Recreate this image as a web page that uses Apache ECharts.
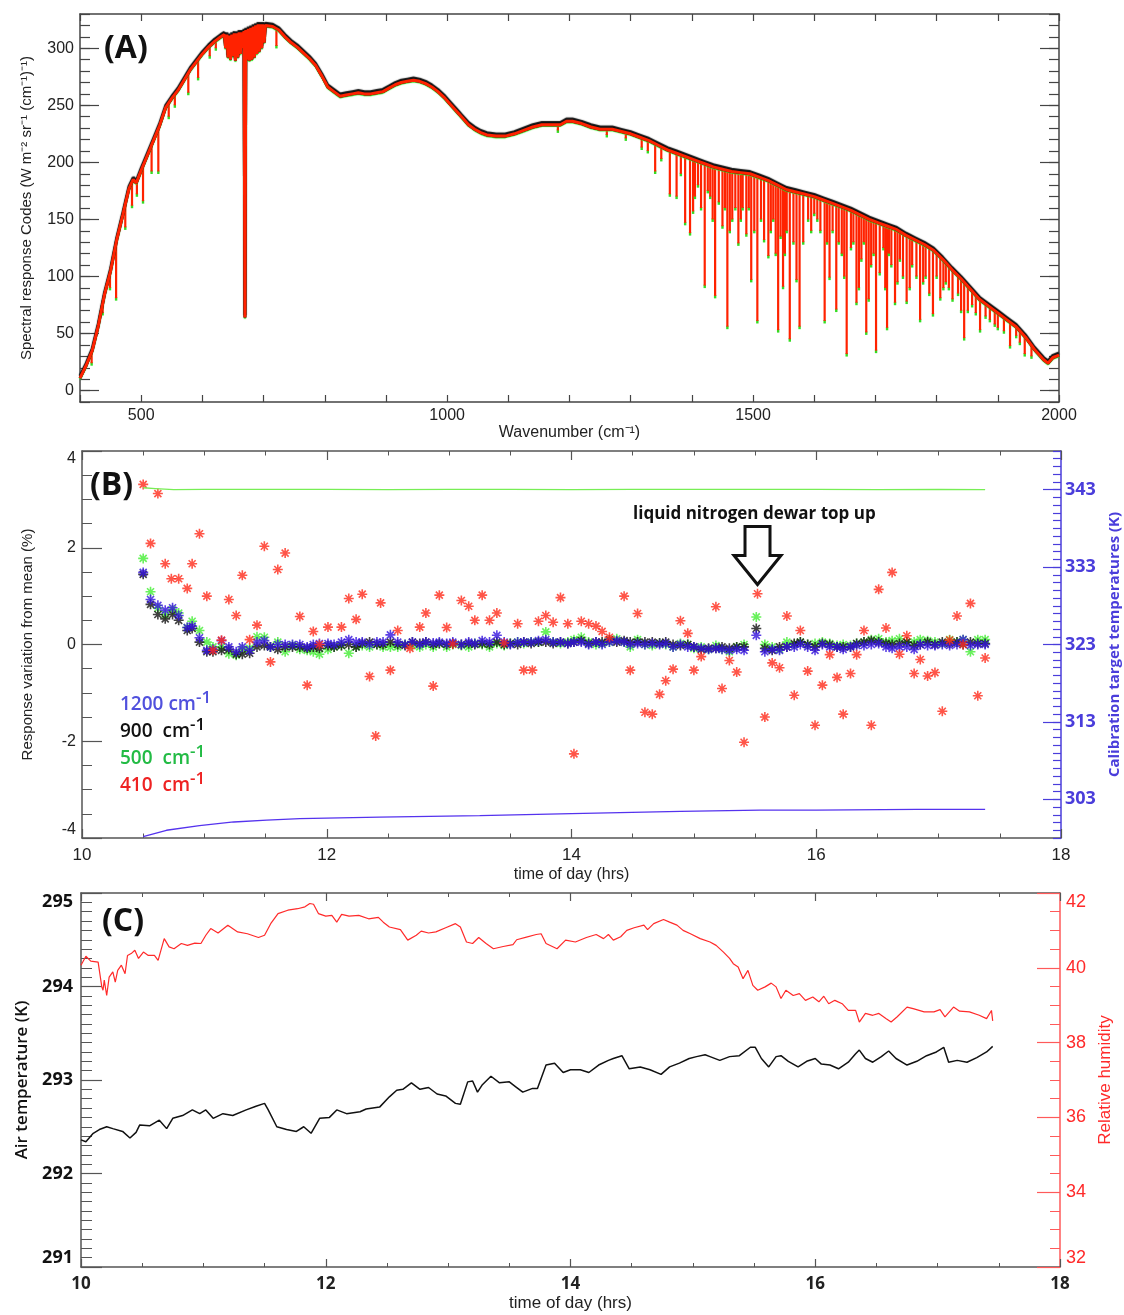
<!DOCTYPE html>
<html>
<head>
<meta charset="utf-8">
<script src="https://cdn.jsdelivr.net/npm/echarts@6/dist/echarts.min.js"></script>
<style>
html, body { margin: 0; padding: 0; background: #fff; }
#main { width: 1124px; height: 1315px; }
</style>
</head>
<body>
<div id="main"></div>
<script>
// ---------- panel A : spectra ----------
var specEnvelope = [
  [400,11],[410,22],[420,35],[430,57],[440,84],[450,105],[460,132],[470,154],[480,177],[487,185],[492,182],
  [500,193],[510,206],[520,219],[530,232],[540,248],[550,256],[560,263],[570,272],[580,281],[590,288],
  [600,295],[610,301],[620,306],[630,310],
  [705,321],[715,319],[725,316],[735,310],[745,305],[755,301],[765,296],[775,291],[785,285],[795,276],
  [805,266],[815,262],[825,258],[835,259],[845,260],[855,261],[865,260],[875,260],[885,261],[895,262],
  [905,265],[915,268],[925,270],[935,271],[945,272],[955,271],[965,269],[975,266],[985,262],[995,257],
  [1005,251],[1015,245],[1025,239],[1035,233],[1045,229],[1055,226],[1065,224],[1080,223],[1095,223],
  [1110,225],[1125,228],[1140,231],[1155,233],[1170,233],[1185,233],[1195,236],[1205,236],[1220,234],
  [1235,231],[1250,229],[1270,229],[1285,227],[1300,225],[1315,222],[1330,219],[1345,215],[1360,211],
  [1375,208],[1390,205],[1405,202],[1420,199],[1435,196],[1450,194],[1465,192],[1480,191],[1495,190],
  [1510,187],[1525,184],[1540,180],[1555,176],[1570,174],[1585,172],[1600,170],[1615,167],[1630,164],
  [1645,161],[1660,158],[1675,154],[1690,150],[1705,147],[1720,144],[1735,141],[1750,136],[1765,132],
  [1780,128],[1795,123],[1810,115],[1825,106],[1840,98],[1855,89],[1870,80],[1885,74],[1900,68],
  [1915,62],[1930,56],[1945,47],[1960,36],[1975,27],[1982,24],[1990,29],[2000,31]
];
// absorption lines: [wavenumber, top, bottom]
var specDips = [
  [419,34,24],[437,76,68],[449,103,90],[459,130,81],[474,163,143],[485,183,162],[493,185,172],[503,196,166],
  [517,215,192],[528,229,192],[545,252,240],[555,259,250],[577,278,261],[593,290,274],[612,302,293],[622,307,300],
  [721,317,302],[1181,232,228],[1261,228,224],[1292,226,221],[1318,221,213],[1328,219,210],[1340,216,192],
  [1350,214,203],[1364,210,172],[1375,208,170],[1382,206,190],[1389,205,147],[1397,203,138],[1402,202,157],
  [1405,202,170],[1410,201,180],[1415,200,160],[1421,199,92],[1426,198,175],[1430,197,170],[1434,196,150],
  [1438,196,83],[1444,195,165],[1450,194,144],[1454,194,160],[1458,193,56],[1462,193,140],[1466,192,150],
  [1471,192,160],[1476,191,129],[1480,191,150],[1483,191,160],[1489,190,137],[1493,190,160],[1497,190,97],
  [1502,189,140],[1507,188,61],[1513,186,150],[1518,185,132],[1525,184,118],[1529,183,140],[1533,182,150],
  [1537,181,120],[1541,180,53],[1545,179,135],[1549,178,91],[1552,177,120],[1555,176,140],[1560,175,45],
  [1566,174,130],[1571,174,97],[1576,173,56],[1582,172,130],[1590,171,150],[1595,170,140],[1600,170,155],
  [1605,169,150],[1610,168,140],[1617,167,61],[1621,166,130],[1625,165,99],[1630,164,140],[1636,163,71],
  [1640,162,130],[1645,161,120],[1649,160,100],[1653,159,32],[1660,158,125],[1664,157,130],[1669,156,77],
  [1673,155,90],[1677,154,115],[1681,153,130],[1685,152,51],[1689,151,80],[1693,150,110],[1697,149,120],
  [1701,148,35],[1707,147,103],[1713,146,125],[1716,145,90],[1719,144,55],[1722,144,120],[1726,143,110],
  [1732,142,77],[1736,140,95],[1740,139,115],[1745,138,100],[1751,136,78],[1756,134,90],[1760,133,110],
  [1767,131,100],[1773,130,62],[1778,128,95],[1782,127,100],[1788,125,85],[1794,123,67],[1800,121,100],
  [1806,117,81],[1811,114,90],[1815,112,95],[1820,109,90],[1826,105,80],[1835,101,85],[1840,98,70],
  [1845,95,46],[1851,91,70],[1858,87,75],[1864,84,68],[1871,79,53],[1880,76,65],[1887,73,62],[1895,70,58],
  [1900,68,55],[1910,64,52],[1920,60,39],[1930,56,48],[1936,52,42],[1944,48,32],[1955,40,30]
];
// dense CO2 band around 667 cm-1
var specQBranch = [
  [636,312],[638,300],[640,312],[642,292],[644,311],[646,290],[648,312],[650,293],[652,313],[654,289],
  [656,313],[658,292],[660,314],[662,295],[664,314],[666,300],[668,315],[669.6,64],[671,316],[673,290],
  [675,317],[677,289],[679,318],[681,290],[683,319],[685,292],[687,320],[689,295],[691,321],[693,297],
  [695,321],[697,300],[699,321],[701,305],[703,320]
];
var specTicks = [0, 50, 100, 150, 200, 250, 300];

// ---------- panel B : response variation ----------
var tB = [
  10.50,10.56,10.62,10.68,10.74,10.79,10.86,10.90,10.96,11.02,
  11.07,11.14,11.20,11.26,11.31,11.37,11.43,11.49,11.54,11.60,
  11.66,11.72,11.78,11.84,11.89,11.94,12.01,12.06,12.12,12.18,
  12.24,12.29,12.35,12.41,12.46,12.52,12.58,12.64,12.70,12.76,
  12.81,12.87,12.92,12.98,13.03,13.10,13.16,13.21,13.27,13.33,
  13.39,13.45,13.50,13.56,13.61,13.67,13.73,13.79,13.85,13.91,
  13.97,14.02,14.08,14.14,14.20,14.25,14.31,14.37,14.43,14.48,
  14.54,14.60,14.66,14.72,14.77,14.83,14.89,14.95,15.00,15.06,
  15.12,15.18,15.23,15.29,15.35,15.41,15.51,15.58,15.64,15.70,
  15.76,15.82,15.87,15.93,15.99,16.05,16.11,16.17,16.22,16.28,
  16.33,16.39,16.45,16.51,16.57,16.62,16.68,16.74,16.80,16.85,
  16.91,16.97,17.03,17.09,17.15,17.20,17.26,17.32,17.38
];
var v1200 = [
  1.49,0.93,0.81,0.71,0.76,0.60,0.35,0.38,0.14,-0.12,
  -0.10,0.08,-0.05,-0.15,-0.05,-0.12,0.05,0.08,-0.05,0.00,
  0.00,0.00,0.00,-0.05,0.00,0.02,0.02,0.00,0.05,0.10,
  0.05,0.05,0.00,0.05,0.05,0.20,0.05,0.00,0.05,0.00,
  0.05,0.03,0.05,0.02,0.05,0.00,0.05,0.02,0.08,0.05,
  0.19,0.05,0.00,0.05,0.05,0.05,0.08,0.10,0.05,0.05,
  0.02,0.05,0.05,0.00,0.05,0.00,0.05,0.08,0.05,0.00,
  0.02,0.00,0.02,0.00,0.02,-0.05,0.00,-0.05,-0.05,-0.08,
  -0.10,-0.08,-0.10,-0.12,-0.10,-0.12,0.19,-0.15,-0.10,-0.12,
  -0.05,-0.05,0.00,-0.05,-0.12,0.00,-0.05,-0.05,-0.10,-0.05,
  -0.02,-0.02,0.00,0.02,-0.05,-0.08,-0.05,-0.05,-0.10,0.00,
  -0.02,-0.02,0.00,-0.02,0.00,0.10,-0.02,0.00,0.00
];
var v900 = [
  1.45,0.83,0.62,0.53,0.62,0.50,0.29,0.33,0.05,-0.15,
  -0.15,-0.12,-0.10,-0.20,-0.20,-0.18,-0.05,-0.02,-0.05,-0.10,
  -0.05,-0.05,-0.05,-0.08,-0.05,-0.08,-0.02,-0.05,-0.02,0.00,
  -0.05,0.02,0.05,0.00,0.00,0.05,0.00,-0.02,0.05,0.02,
  0.05,0.00,0.02,0.00,0.02,0.00,0.02,0.00,0.02,0.00,
  0.05,0.00,0.02,0.00,0.05,0.02,0.05,0.05,0.02,0.05,
  0.02,0.05,0.08,0.02,0.05,0.05,0.10,0.05,0.08,0.05,
  0.05,0.05,0.05,0.03,0.05,0.00,-0.02,0.00,-0.05,-0.10,
  -0.08,-0.08,-0.05,-0.08,-0.05,-0.05,0.33,-0.08,-0.12,-0.05,
  -0.05,0.02,0.05,0.00,-0.05,0.02,0.00,-0.05,-0.05,-0.05,
  0.02,0.05,0.08,0.05,0.02,0.00,0.02,0.05,-0.02,0.00,
  0.05,0.00,0.05,0.02,0.05,0.00,0.05,0.02,0.02
];
var v500 = [
  1.78,1.09,0.75,0.62,0.72,0.65,0.35,0.48,0.29,0.05,
  -0.05,-0.05,-0.19,-0.22,-0.10,-0.08,0.16,0.15,-0.05,0.05,
  -0.15,-0.02,-0.10,-0.12,-0.15,-0.20,-0.10,-0.05,-0.02,-0.18,
  -0.05,-0.02,-0.05,0.00,-0.05,-0.05,-0.05,0.00,-0.02,-0.05,
  0.00,-0.05,0.02,-0.05,0.00,-0.02,-0.05,0.02,0.00,-0.05,
  0.02,-0.02,0.02,0.05,0.02,0.05,0.05,0.26,0.05,0.02,
  0.05,0.10,0.15,0.05,0.00,0.02,0.05,0.12,0.05,-0.05,
  0.10,0.00,-0.02,0.02,0.00,-0.05,0.02,0.00,-0.08,-0.05,
  -0.10,-0.02,-0.10,-0.15,-0.05,0.00,0.57,0.00,-0.05,-0.10,
  0.05,0.00,0.05,0.00,0.02,0.05,0.02,-0.02,0.00,-0.02,
  0.02,0.05,0.10,0.12,0.05,0.08,0.12,0.05,0.05,0.10,
  0.08,0.05,0.02,0.10,0.05,0.10,-0.15,0.10,0.10
];
var v410 = [
  [10.50,3.31],[10.56,2.09],[10.62,3.12],[10.68,1.67],[10.73,1.36],[10.79,1.36],[10.86,1.16],[10.90,1.67],[10.96,2.29],[11.02,1.00],
  [11.07,-0.12],[11.14,0.09],[11.20,0.93],[11.26,0.60],[11.31,1.43],[11.37,0.10],[11.43,0.40],[11.49,2.03],[11.54,-0.36],[11.60,1.55],
  [11.66,1.89],[11.78,0.58],[11.84,-0.84],[11.89,0.27],[11.94,0.00],[12.01,0.36],[12.12,0.36],[12.18,0.95],[12.24,0.52],[12.29,1.04],
  [12.35,-0.66],[12.40,-1.89],[12.44,0.86],[12.52,-0.53],[12.58,0.29],[12.68,-0.08],[12.76,0.36],[12.81,0.65],[12.87,-0.86],[12.92,1.02],
  [12.98,0.35],[13.03,0.01],[13.10,0.91],[13.16,0.79],[13.21,0.50],[13.27,1.02],[13.33,0.50],[13.39,0.65],[13.45,0.03],[13.56,0.43],
  [13.61,-0.53],[13.68,-0.53],[13.73,0.48],[13.79,0.60],[13.85,0.46],[13.91,0.97],[13.97,0.43],[14.02,-2.26],[14.08,0.48],[14.14,0.43],
  [14.20,0.38],[14.25,0.27],[14.31,0.15],[14.43,1.00],[14.48,-0.53],[14.54,0.64],[14.60,-1.40],[14.66,-1.44],[14.72,-1.03],[14.77,-0.75],
  [14.83,-0.51],[14.89,0.49],[14.95,0.23],[15.00,-0.53],[15.06,-0.25],[15.18,0.78],[15.23,-0.91],[15.29,-0.33],[15.35,-0.57],[15.41,-2.02],
  [15.52,1.05],[15.58,-1.50],[15.64,-0.38],[15.70,-0.48],[15.76,0.59],[15.82,-1.05],[15.87,0.29],[15.93,-0.55],[15.99,-1.67],[16.05,-0.84],
  [16.11,-0.21],[16.17,-0.68],[16.22,-1.44],[16.28,-0.60],[16.33,-0.21],[16.39,0.29],[16.45,-1.67],[16.51,1.14],[16.57,0.34],[16.62,1.49],
  [16.68,-0.20],[16.74,0.18],[16.80,-0.60],[16.85,-0.31],[16.91,-0.65],[16.97,-0.58],[17.03,-1.38],[17.09,0.09],[17.15,0.59],[17.20,0.00],
  [17.26,0.85],[17.32,-1.06],[17.38,-0.28]
];
var hotTarget = [
  [10.50,343.25],[10.60,343.15],[10.75,343.00],[11.00,343.05],[11.50,343.05],[12.00,343.05],[12.50,343.00],[13.00,343.05],
  [13.50,343.05],[14.00,343.00],[14.50,343.05],[15.00,343.05],[15.50,343.05],[16.00,343.05],[16.50,343.00],[17.00,343.05],[17.38,343.00]
];
var coldTarget = [
  [10.50,298.17],[10.69,299.0],[10.96,299.6],[11.24,300.07],[11.51,300.3],[11.78,300.5],[12.43,300.7],
  [13.25,300.9],[14.00,301.15],[14.89,301.45],[15.54,301.6],[16.00,301.6],[16.82,301.7],[17.38,301.7]
];
var calTicks = [303, 313, 323, 333, 343];
var arrowTip = [15.52, 1.24];

// ---------- panel C : air temperature / humidity ----------
var humidity = [
  [10.00,40.07],[10.04,40.31],[10.08,40.18],[10.14,40.15],[10.17,39.49],[10.18,39.40],[10.19,39.67],[10.21,39.26],[10.23,39.75],[10.26,39.89],
  [10.28,39.62],[10.30,39.93],[10.33,40.07],[10.36,39.84],[10.38,40.33],[10.41,40.38],[10.44,40.47],[10.47,40.25],[10.51,40.42],[10.55,40.33],
  [10.60,40.33],[10.63,40.20],[10.68,40.78],[10.72,40.56],[10.76,40.51],[10.82,40.65],[10.87,40.60],[10.93,40.66],[10.98,40.65],[11.02,40.87],
  [11.06,41.05],[11.12,40.93],[11.20,41.14],[11.28,40.96],[11.36,40.91],[11.45,40.81],[11.50,40.87],[11.55,41.18],[11.61,41.45],[11.69,41.54],
  [11.77,41.58],[11.83,41.63],[11.87,41.72],[11.90,41.70],[11.94,41.45],[12.00,41.38],[12.05,41.40],[12.09,41.22],[12.13,41.43],[12.19,41.38],
  [12.27,41.40],[12.35,41.31],[12.43,41.35],[12.47,41.22],[12.52,41.09],[12.61,41.02],[12.67,40.74],[12.74,40.87],[12.78,40.98],[12.84,40.93],
  [12.90,40.96],[12.98,41.07],[13.06,41.18],[13.10,41.09],[13.15,40.69],[13.20,40.65],[13.25,40.81],[13.31,40.65],[13.37,40.51],[13.45,40.57],
  [13.53,40.62],[13.56,40.75],[13.64,40.82],[13.72,40.89],[13.76,40.91],[13.80,40.65],[13.89,40.51],[13.96,40.74],[14.04,40.69],[14.13,40.81],
  [14.21,40.89],[14.27,40.78],[14.31,40.89],[14.35,40.74],[14.41,40.83],[14.46,41.00],[14.52,41.07],[14.60,41.14],[14.63,41.02],[14.68,41.18],
  [14.76,41.29],[14.81,41.22],[14.87,41.14],[14.92,41.00],[14.98,40.91],[15.06,40.78],[15.14,40.69],[15.19,40.60],[15.25,40.42],[15.30,40.25],
  [15.33,40.11],[15.37,40.02],[15.41,39.71],[15.45,39.93],[15.49,39.53],[15.53,39.40],[15.59,39.49],[15.64,39.59],[15.68,39.49],[15.72,39.18],
  [15.76,39.40],[15.82,39.26],[15.87,39.31],[15.92,39.13],[15.98,39.22],[16.03,39.09],[16.07,39.24],[16.11,39.04],[16.16,39.13],[16.22,39.04],
  [16.27,38.86],[16.33,38.86],[16.36,38.55],[16.41,38.78],[16.47,38.73],[16.52,38.78],[16.58,38.64],[16.62,38.55],[16.67,38.69],[16.75,38.95],
  [16.80,38.91],[16.89,38.82],[16.97,38.82],[17.02,38.88],[17.06,38.69],[17.13,38.95],[17.18,38.84],[17.26,38.82],[17.34,38.73],[17.40,38.64],
  [17.44,38.86],[17.45,38.58]
];
var airTemp = [
  [10.00,292.36],[10.04,292.34],[10.10,292.43],[10.15,292.47],[10.21,292.50],[10.26,292.48],[10.34,292.45],[10.40,292.38],[10.45,292.44],[10.48,292.52],
  [10.56,292.51],[10.64,292.57],[10.70,292.48],[10.75,292.59],[10.83,292.62],[10.91,292.68],[10.97,292.64],[11.02,292.68],[11.08,292.59],[11.16,292.64],
  [11.24,292.62],[11.35,292.68],[11.43,292.72],[11.50,292.75],[11.53,292.68],[11.60,292.50],[11.68,292.47],[11.76,292.45],[11.82,292.50],[11.88,292.43],
  [11.95,292.59],[12.03,292.60],[12.09,292.68],[12.17,292.64],[12.28,292.66],[12.33,292.69],[12.44,292.71],[12.52,292.82],[12.58,292.89],[12.63,292.90],
  [12.70,292.97],[12.77,292.90],[12.84,292.92],[12.91,292.85],[12.98,292.83],[13.06,292.75],[13.10,292.74],[13.16,292.98],[13.20,292.99],[13.24,292.87],
  [13.28,292.95],[13.35,293.04],[13.42,292.97],[13.50,292.98],[13.55,292.93],[13.61,292.87],[13.69,292.91],[13.73,292.91],[13.80,293.16],[13.87,293.18],
  [13.94,293.08],[14.00,293.11],[14.08,293.11],[14.15,293.08],[14.23,293.16],[14.31,293.21],[14.35,293.23],[14.42,293.26],[14.48,293.12],[14.57,293.14],
  [14.65,293.11],[14.74,293.06],[14.81,293.14],[14.89,293.18],[14.97,293.23],[15.03,293.25],[15.10,293.27],[15.14,293.25],[15.22,293.21],[15.30,293.25],
  [15.38,293.26],[15.47,293.35],[15.51,293.35],[15.56,293.23],[15.62,293.14],[15.68,293.25],[15.72,293.26],[15.78,293.20],[15.86,293.14],[15.93,293.20],
  [16.00,293.23],[16.05,293.17],[16.12,293.16],[16.19,293.12],[16.27,293.19],[16.33,293.28],[16.36,293.32],[16.41,293.23],[16.47,293.19],[16.54,293.25],
  [16.60,293.31],[16.66,293.23],[16.75,293.16],[16.83,293.20],[16.91,293.26],[16.99,293.30],[17.05,293.35],[17.09,293.19],[17.16,293.21],[17.24,293.19],
  [17.32,293.24],[17.40,293.30],[17.45,293.36]
];

// ---------- helpers ----------
function mix(a, b) {
  var out = {};
  [a, b].forEach(function (src) {
    Object.keys(src).forEach(function (k) {
      var v = src[k];
      if (v && typeof v === 'object' && !Array.isArray(v) && out[k] && typeof out[k] === 'object' && !Array.isArray(out[k])) {
        out[k] = mix(out[k], v);
      } else {
        out[k] = v;
      }
    });
  });
  return out;
}
function frame(color, extra) {
  return mix({
    type: 'value',
    splitLine: { show: false },
    axisLine: { show: true, onZero: false, lineStyle: { color: color, width: 1.5 } },
    axisTick: { show: true, inside: true, lineStyle: { color: color, width: 1.2 } },
    axisLabel: { show: false }
  }, extra);
}
function zip(xs, ys) {
  return xs.map(function (x, i) { return [x, ys[i]]; });
}
var STAR = 'path://M-0.8,-5L0.8,-5L0.8,5L-0.8,5Z M-5,-0.8L5,-0.8L5,0.8L-5,0.8Z ' +
  'M-2.93,-4.07L4.07,2.93L2.93,4.07L-4.07,-2.93Z M2.93,-4.07L4.07,-2.93L-2.93,4.07L-4.07,2.93Z';

var spectrum = specEnvelope.concat(specQBranch).sort(function (p, q) { return p[0] - q[0]; });

var GREY = '#555';
var CAL = '#4a3ddb';
var RHRED = '#ff2a2a';
var SPEC_RED = '#ff2200';

var chart = echarts.init(document.getElementById('main'));

chart.setOption({
  animation: false,
  backgroundColor: '#fff',
  textStyle: { fontFamily: 'Liberation Sans' },
  grid: [
    { left: 80, top: 14, width: 979, height: 388, outerBoundsMode: 'none' },
    { left: 82, top: 451, width: 979, height: 387, outerBoundsMode: 'none' },
    { left: 81, top: 893, width: 979, height: 374, outerBoundsMode: 'none' }
  ],
  xAxis: [
    frame('#444', {
      gridIndex: 0, min: 400, max: 2000, interval: 100, axisTick: { length: 7 },
      axisLabel: { show: true, formatter: function (v) { return v % 500 === 0 ? v : ''; }, fontSize: 16, color: '#222', margin: 6 },
      name: 'Wavenumber (cm⁻¹)', nameLocation: 'middle', nameGap: 10,
      nameTextStyle: { fontSize: 16, color: '#222' }
    }),
    frame('#444', { gridIndex: 0, position: 'top', min: 400, max: 2000, interval: 100, axisTick: { length: 7 } }),
    frame(GREY, {
      gridIndex: 1, min: 10, max: 18, interval: 2, axisTick: { length: 9 },
      minorTick: { show: true, splitNumber: 4, length: 4.5, lineStyle: { color: GREY } },
      axisLabel: { show: true, fontSize: 17, color: '#222', margin: 9 },
      name: 'time of day (hrs)', nameLocation: 'middle', nameGap: 29,
      nameTextStyle: { fontSize: 16, color: '#222' }
    }),
    frame(GREY, {
      gridIndex: 1, position: 'top', min: 10, max: 18, interval: 2, axisTick: { length: 9 },
      minorTick: { show: true, splitNumber: 4, length: 4.5, lineStyle: { color: GREY } }
    }),
    frame(GREY, {
      gridIndex: 2, min: 10, max: 18, interval: 2, axisTick: { length: 8 },
      minorTick: { show: true, splitNumber: 4, length: 4, lineStyle: { color: GREY } },
      axisLabel: { show: true, fontSize: 17, fontWeight: 'bold', fontFamily: 'Open Sans', color: '#222', margin: 9 },
      name: 'time of day (hrs)', nameLocation: 'middle', nameGap: 28,
      nameTextStyle: { fontSize: 17, color: '#222' }
    }),
    frame(GREY, {
      gridIndex: 2, position: 'top', min: 10, max: 18, interval: 2, axisTick: { length: 8 },
      minorTick: { show: true, splitNumber: 4, length: 4, lineStyle: { color: GREY } }
    })
  ],
  yAxis: [
    // 0..3 : panel A
    frame('#444', {
      gridIndex: 0, position: 'left', min: -10, max: 330, interval: 10, axisTick: { length: 10 },
      axisLabel: { show: true, formatter: function (v) { return v % 50 === 0 ? v : ''; }, fontSize: 16, color: '#222', margin: 6 },
      name: 'Spectral response Codes (W m⁻² sr⁻¹ (cm⁻¹)⁻¹)', nameLocation: 'middle', nameGap: 46,
      nameTextStyle: { fontSize: 15, color: '#222' }
    }),
    frame('#444', { gridIndex: 0, position: 'left', min: -10, max: 330, axisLine: { show: false }, axisTick: { length: 19, customValues: specTicks } }),
    frame('#444', { gridIndex: 0, position: 'right', min: -10, max: 330, interval: 10, axisTick: { length: 10 } }),
    frame('#444', { gridIndex: 0, position: 'right', min: -10, max: 330, axisLine: { show: false }, axisTick: { length: 19, customValues: specTicks } }),
    // 4..6 : panel B
    frame(GREY, {
      gridIndex: 1, position: 'left', min: -4, max: 4, interval: 2, axisTick: { length: 20 },
      minorTick: { show: true, splitNumber: 4, length: 10, lineStyle: { color: GREY } },
      axisLabel: { show: true, fontSize: 16, color: '#222', margin: 6, verticalAlignMinLabel: 'bottom', verticalAlignMaxLabel: 'top' },
      name: 'Response variation from mean (%)', nameLocation: 'middle', nameGap: 47,
      nameTextStyle: { fontSize: 15, color: '#222' }
    }),
    frame(CAL, {
      gridIndex: 1, position: 'right', min: 298, max: 348, interval: 1, axisTick: { length: 8 },
      axisLabel: {
        show: true, formatter: function (v) { return (v - 303) % 10 === 0 ? v : ''; },
        fontSize: 18, fontWeight: 'bold', fontFamily: 'Open Sans', color: CAL, margin: 4
      },
      name: 'Calibration target temperatures (K)', nameLocation: 'middle', nameGap: 46, nameRotate: 90,
      nameTextStyle: { fontSize: 15, fontWeight: 'bold', fontFamily: 'Open Sans', color: CAL }
    }),
    frame(CAL, { gridIndex: 1, position: 'right', min: 298, max: 348, axisLine: { show: false }, axisTick: { length: 18, customValues: calTicks } }),
    // 7..8 : panel C
    frame(GREY, {
      gridIndex: 2, position: 'left', min: 291, max: 295, interval: 1, axisTick: { length: 21 },
      minorTick: { show: true, splitNumber: 10, length: 11, lineStyle: { color: GREY } },
      axisLabel: {
        show: true, fontSize: 18, fontWeight: 'bold', fontFamily: 'Open Sans', color: '#111', margin: 8,
        verticalAlignMinLabel: 'bottom', verticalAlignMaxLabel: 'top'
      },
      name: 'Air temperature (K)', nameLocation: 'middle', nameGap: 50,
      nameTextStyle: { fontSize: 17, fontWeight: 600, fontFamily: 'Open Sans', color: '#111' }
    }),
    frame('#ff5a5a', {
      gridIndex: 2, position: 'right', min: 32, max: 42, interval: 2, axisTick: { length: 23 },
      minorTick: { show: true, splitNumber: 4, length: 10, lineStyle: { color: '#ff5a5a' } },
      axisLabel: {
        show: true, fontSize: 18, color: RHRED, margin: 6,
        verticalAlignMinLabel: 'bottom', verticalAlignMaxLabel: 'top'
      },
      name: 'Relative humidity', nameLocation: 'middle', nameGap: 34, nameRotate: 90,
      nameTextStyle: { fontSize: 17, color: RHRED }
    })
  ],
  series: [
    { type: 'line', xAxisIndex: 0, yAxisIndex: 0, data: spectrum, symbol: 'none', silent: true,
      lineStyle: { color: '#33dd22', width: 2.2, shadowColor: '#33dd22', shadowOffsetY: 1.2, shadowBlur: 1 } },
    { type: 'line', xAxisIndex: 0, yAxisIndex: 0, data: spectrum, symbol: 'none', silent: true,
      lineStyle: { color: '#111', width: 3, shadowColor: '#111', shadowOffsetY: -2.2, shadowBlur: 1 } },
    { type: 'line', xAxisIndex: 0, yAxisIndex: 0, data: spectrum, symbol: 'none', silent: true,
      lineStyle: { color: SPEC_RED, width: 3 } },
    // absorption lines as narrow spikes
    { type: 'custom', xAxisIndex: 0, yAxisIndex: 0, data: specDips, silent: true, clip: true,
      encode: { x: 0, y: [1, 2] },
      renderItem: function (params, api) {
        var top = api.coord([api.value(0), api.value(1)]);
        var bot = api.coord([api.value(0), api.value(2)]);
        return {
          type: 'group',
          children: [
            { type: 'line', shape: { x1: bot[0], y1: bot[1] - 1, x2: bot[0], y2: bot[1] + 2.5 },
              style: { stroke: '#33dd22', lineWidth: 2.4 } },
            { type: 'line', shape: { x1: top[0], y1: top[1], x2: bot[0], y2: bot[1] },
              style: { stroke: SPEC_RED, lineWidth: 2.2 } }
          ]
        };
      }
    },

    { type: 'line', xAxisIndex: 2, yAxisIndex: 5, data: hotTarget, symbol: 'none', silent: true,
      lineStyle: { color: '#77ee55', width: 1.3 } },
    { type: 'line', xAxisIndex: 2, yAxisIndex: 5, data: coldTarget, symbol: 'none', silent: true,
      lineStyle: { color: '#5533ee', width: 1.3 } },
    { type: 'scatter', xAxisIndex: 2, yAxisIndex: 4, data: zip(tB, v500), symbol: STAR, symbolSize: 10, silent: true,
      itemStyle: { color: '#44ee33' } },
    { type: 'scatter', xAxisIndex: 2, yAxisIndex: 4, data: zip(tB, v900), symbol: STAR, symbolSize: 10, silent: true,
      itemStyle: { color: '#111' } },
    { type: 'scatter', xAxisIndex: 2, yAxisIndex: 4, data: zip(tB, v1200), symbol: STAR, symbolSize: 10, silent: true,
      itemStyle: { color: '#3311dd' } },
    { type: 'scatter', xAxisIndex: 2, yAxisIndex: 4, data: v410, symbol: STAR, symbolSize: 10, silent: true,
      itemStyle: { color: '#ff2a1a' } },

    { type: 'line', xAxisIndex: 4, yAxisIndex: 8, data: humidity, symbol: 'none', silent: true,
      lineStyle: { color: RHRED, width: 1.2 } },
    { type: 'line', xAxisIndex: 4, yAxisIndex: 7, data: airTemp, symbol: 'none', silent: true,
      lineStyle: { color: '#111', width: 1.5 } }
  ]
});

// annotations, placed after the axes exist
var tip = chart.convertToPixel({ xAxisIndex: 2, yAxisIndex: 4 }, arrowTip);
var tx = tip[0], ty = tip[1];

function legendText(y, label, color) {
  return {
    type: 'text', x: 120, y: y,
    style: {
      text: '{m|' + label + '}{s|-1}',
      verticalAlign: 'middle',
      rich: {
        m: { fontSize: 19, fontWeight: 600, fontFamily: 'Open Sans', fill: color, color: color, lineHeight: 30 },
        s: { fontSize: 17, fontWeight: 600, fontFamily: 'Open Sans', fill: color, color: color, lineHeight: 18, verticalAlign: 'top' }
      }
    }
  };
}

chart.setOption({
  graphic: [
    { type: 'text', x: 104, y: 49, style: { text: '(A)', font: 'bold 32px "Open Sans"', fill: '#111', verticalAlign: 'middle' } },
    { type: 'text', x: 90, y: 486, style: { text: '(B)', font: 'bold 32px "Open Sans"', fill: '#111', verticalAlign: 'middle' } },
    { type: 'text', x: 102, y: 922, style: { text: '(C)', font: 'bold 32px "Open Sans"', fill: '#111', verticalAlign: 'middle' } },
    legendText(705, '1200 cm', '#5050dd'),
    legendText(732, '900  cm', '#111'),
    legendText(759, '500  cm', '#22bb44'),
    legendText(786, '410  cm', '#ee2222'),
    { type: 'text', x: 633, y: 514,
      style: { text: 'liquid nitrogen dewar top up', font: 'bold 17px "Open Sans"', fill: '#111', verticalAlign: 'middle' } },
    { type: 'polygon',
      shape: { points: [
        [tx - 12.5, ty - 58], [tx + 12.5, ty - 58], [tx + 12.5, ty - 29], [tx + 23.5, ty - 29],
        [tx, ty], [tx - 23.5, ty - 29], [tx - 12.5, ty - 29]
      ] },
      style: { fill: 'none', stroke: '#111', lineWidth: 3, lineJoin: 'miter' } }
  ]
});
</script>
</body>
</html>
